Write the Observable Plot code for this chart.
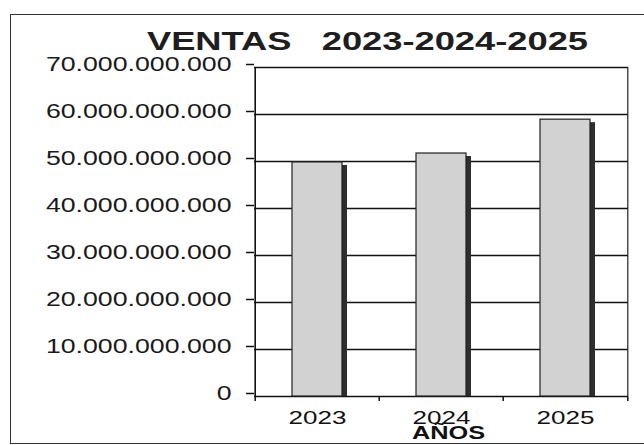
<!DOCTYPE html>
<html><head><meta charset="utf-8">
<script src="https://cdn.jsdelivr.net/npm/d3@7"></script>
<script src="https://cdn.jsdelivr.net/npm/@observablehq/plot@0.6"></script>
<style>
html,body{margin:0;padding:0;background:#fff;}
#wrap{position:relative;width:644px;height:445px;overflow:hidden;}
#border{position:absolute;left:10px;top:14px;width:660px;height:430px;border:1.5px solid #333;box-sizing:border-box;}
#chart{position:absolute;left:0;top:0;}
</style></head>
<body><div id="wrap"><div id="border"></div><div id="chart"></div></div>
<script>
const years = ["2023", "2024", "2025"];
const ventas = [49800000000, 51700000000, 58900000000];
const yTicks = [0, 10000000000, 20000000000, 30000000000, 40000000000, 50000000000, 60000000000, 70000000000];
const title = "VENTAS\u00a0\u00a0\u00a02023-2024-2025";
const xLabel = "AÑOS";

const data = years.map((y, i) => ({year: y, value: ventas[i]}));
const es = d3.formatLocale({decimal: ",", thousands: ".", grouping: [3], currency: ["", ""]});
const fmt = es.format(",.0f");
const font = "'Liberation Sans', Arial, sans-serif";
const half = 62.3;

const chart = Plot.plot({
  width: 644, height: 445,
  marginLeft: 254, marginRight: 16, marginTop: 67, marginBottom: 49,
  style: {fontFamily: font, background: "transparent", color: "#1a1a1a"},
  x: {type: "band", domain: years, paddingInner: 0.6, paddingOuter: 0.3, align: 0.5},
  y: {type: "linear", domain: [0, 70000000000]},
  marks: [
    Plot.ruleY(yTicks, {y: d => d, stroke: "#111", strokeWidth: 1.6}),
    Plot.ruleX([years[0]], {x: d => d, stroke: "#111", strokeWidth: 1.6, dx: -half}),
    Plot.ruleX([years[2]], {x: d => d, stroke: "#222", strokeWidth: 1.2, dx: half}),
    Plot.axisX(years, {tickSize: 5, dx: -half, text: null, stroke: "#111", strokeWidth: 1.5, label: null}),
    Plot.axisX([years[2]], {tickSize: 5, dx: half, text: null, stroke: "#111", strokeWidth: 1.5, label: null}),
    Plot.rectY(data, {x: "year", y: "value", fill: "#2e2e2e", dx: 5, dy: 3, clip: true}),
    Plot.rectY(data, {x: "year", y: "value", fill: "#d2d2d2", stroke: "#222", strokeWidth: 1.2}),
    Plot.axisY(yTicks, {tickFormat: fmt, tickSize: 8, tickPadding: 15, dy: -3, fontSize: 19.5, stroke: "#111", strokeWidth: 1.5, fill: "#1a1a1a", label: null}),
    Plot.axisX({tickSize: 0, tickPadding: 14, fontSize: 19, fill: "#111", label: null}),
    Plot.text([xLabel], {frameAnchor: "bottom", lineAnchor: "middle", dx: 7, dy: 37, fontSize: 18.5, fontWeight: "bold", fill: "#111"}),
    Plot.text([title], {frameAnchor: "top", lineAnchor: "middle", dx: -74, dy: -25.5, fontSize: 26.5, fontWeight: "bold", fill: "#1e1e1e"})
  ]
});
// the reference's lettering is horizontally wide: stretch each text about its anchor
d3.select(chart).selectAll("text").each(function() {
  const el = d3.select(this);
  const xa = el.attr("x");
  const x = xa != null && isFinite(+xa) ? +xa : 0;
  if (xa != null && isFinite(+xa)) el.attr("x", null);
  const t = el.attr("transform") || "";
  el.attr("transform", `${t} translate(${x},0) scale(1.37,1)`);
});
document.getElementById("chart").appendChild(chart);
</script></body></html>
